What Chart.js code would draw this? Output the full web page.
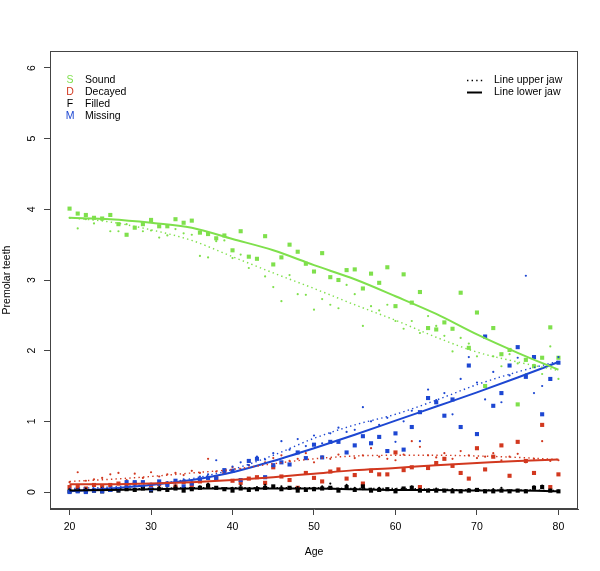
<!DOCTYPE html>
<html>
<head>
<meta charset="utf-8">
<script src="https://cdn.jsdelivr.net/npm/chart.js@4.4.1/dist/chart.umd.min.js"></script>
<style>
  html, body { margin: 0; padding: 0; background: #fff; }
</style>
</head>
<body>
<canvas id="teethChart" width="600" height="571"></canvas>
<script>
// ages of the patients (x axis)
const ages = [20,21,22,23,24,25,26,27,28,29,30,31,32,33,34,35,36,37,38,39,40,
  41,42,43,44,45,46,47,48,49,50,51,52,53,54,55,56,57,58,59,60,
  61,62,63,64,65,66,67,68,69,70,71,72,73,74,75,76,77,78,79,80];

// mean number of premolars per age, lower jaw (squares) and upper jaw (dots)
const soundLower = [4.01,3.94,3.92,3.88,3.87,3.92,3.79,3.64,3.74,3.79,3.85,3.76,3.76,3.86,3.81,3.84,3.67,3.65,3.59,3.63,3.42,
  3.69,3.33,3.30,3.62,3.22,3.32,3.50,3.40,3.23,3.12,3.38,3.04,3.00,3.14,3.15,2.88,3.09,2.96,3.18,2.63,
  3.08,2.68,2.83,2.32,2.30,2.40,2.31,2.82,2.04,2.54,1.50,2.32,1.95,2.01,1.24,1.87,1.78,1.90,2.33,1.90];
const soundUpper = [3.88,3.73,3.86,3.80,3.85,3.69,3.69,3.79,3.75,3.69,3.70,3.60,3.63,3.72,3.66,3.64,3.34,3.32,3.55,3.56,3.31,
  3.36,3.17,3.30,3.05,2.90,2.70,3.07,2.80,2.79,2.58,2.73,2.65,2.60,2.93,2.80,2.35,2.63,2.57,2.65,2.42,
  2.31,2.42,2.25,2.49,2.35,2.21,1.99,2.18,2.10,1.92,2.21,1.92,1.78,1.95,1.82,1.67,1.80,1.67,2.06,1.60];
const decayedLower = [0.07,0.07,0.05,0.10,0.07,0.10,0.12,0.08,0.12,0.07,0.10,0.11,0.12,0.08,0.14,0.10,0.15,0.08,0.20,0.28,0.16,
  0.13,0.19,0.21,0.13,0.35,0.22,0.17,0.06,0.27,0.20,0.15,0.29,0.32,0.19,0.24,0.12,0.30,0.25,0.25,0.56,
  0.31,0.35,0.07,0.34,0.41,0.47,0.37,0.27,0.19,0.62,0.32,0.50,0.66,0.23,0.71,0.44,0.27,0.95,0.07,0.25];
const decayedUpper = [0.14,0.28,0.16,0.18,0.20,0.25,0.27,0.17,0.26,0.20,0.28,0.22,0.25,0.27,0.24,0.30,0.27,0.47,0.29,0.31,0.35,
  0.32,0.38,0.47,0.42,0.48,0.52,0.44,0.47,0.55,0.42,0.50,0.47,0.53,0.56,0.48,0.52,0.62,0.50,0.47,0.45,
  0.53,0.72,0.64,0.52,0.49,0.55,0.47,0.58,0.52,0.48,0.50,0.55,0.45,0.50,0.54,0.42,0.47,0.72,0.44,0.45];
const filledLower = [0.01,0.02,0.01,0.02,0.01,0.03,0.02,0.04,0.03,0.05,0.02,0.04,0.03,0.05,0.02,0.04,0.06,0.09,0.06,0.04,0.02,
  0.05,0.03,0.04,0.06,0.08,0.04,0.06,0.02,0.03,0.04,0.05,0.06,0.02,0.07,0.03,0.08,0.02,0.03,0.04,0.01,
  0.05,0.06,0.02,0.02,0.02,0.02,0.01,0.01,0.02,0.03,0.01,0.01,0.02,0.01,0.02,0.01,0.06,0.07,0.02,0.01];
const filledUpper = [0.04,0.03,0.05,0.02,0.06,0.04,0.03,0.06,0.05,0.08,0.04,0.07,0.05,0.09,0.06,0.05,0.08,0.12,0.07,0.05,0.06,
  0.09,0.05,0.07,0.10,0.06,0.08,0.05,0.07,0.04,0.06,0.08,0.12,0.05,0.10,0.06,0.04,0.05,0.06,0.03,0.04,
  0.05,0.08,0.04,0.03,0.05,0.03,0.04,0.02,0.04,0.03,0.02,0.04,0.06,0.02,0.03,0.02,0.08,0.09,0.03,0.02];
const missingLower = [0.00,0.01,0.00,0.02,0.01,0.03,0.04,0.14,0.14,0.14,0.04,0.15,0.10,0.16,0.08,0.12,0.18,0.20,0.19,0.31,0.30,
  0.17,0.44,0.47,0.21,0.38,0.42,0.39,0.56,0.48,0.67,0.49,0.71,0.71,0.56,0.66,0.79,0.69,0.78,0.58,0.83,
  0.60,0.92,1.13,1.33,1.27,1.08,1.31,0.92,1.79,0.82,2.20,1.22,1.40,1.79,2.05,1.63,1.91,1.10,1.60,1.83];
const missingUpper = [0.02,0.03,0.02,0.05,0.04,0.06,0.05,0.08,0.10,0.08,0.12,0.10,0.14,0.13,0.18,0.15,0.22,0.25,0.45,0.28,0.36,
  0.42,0.38,0.50,0.46,0.55,0.72,0.60,0.75,0.65,0.80,0.69,0.83,0.91,0.85,0.88,1.20,1.00,0.95,1.05,0.71,
  1.00,1.15,0.72,1.45,1.30,1.40,1.10,1.60,1.91,1.55,1.31,1.70,1.27,1.65,1.90,3.06,1.40,1.50,1.80,1.91];

// fitted curves, read at every 5 years
const fitAges = [20,25,30,35,40,45,50,55,60,65,70,75,80];
const soundLowerFit   = [3.88,3.86,3.81,3.74,3.58,3.42,3.21,3.01,2.77,2.52,2.23,1.97,1.73];
const soundUpperFit   = [3.88,3.82,3.71,3.56,3.33,3.10,2.88,2.65,2.43,2.19,1.98,1.84,1.72];
const decayedLowerFit = [0.11,0.11,0.12,0.14,0.17,0.21,0.26,0.31,0.34,0.38,0.41,0.44,0.46];
const decayedUpperFit = [0.15,0.18,0.22,0.27,0.32,0.40,0.47,0.51,0.52,0.52,0.51,0.49,0.46];
const filledLowerFit  = [0.02,0.03,0.04,0.05,0.05,0.05,0.05,0.04,0.03,0.03,0.02,0.02,0.01];
const filledUpperFit  = [0.03,0.04,0.05,0.06,0.06,0.06,0.06,0.05,0.05,0.04,0.03,0.03,0.02];
const missingLowerFit = [0.01,0.05,0.10,0.17,0.28,0.44,0.62,0.81,1.01,1.21,1.41,1.62,1.84];
const missingUpperFit = [0.05,0.07,0.11,0.19,0.32,0.52,0.76,0.95,1.10,1.30,1.52,1.70,1.85];

const xTicks = [20, 30, 40, 50, 60, 70, 80];
const yTicks = [0, 1, 2, 3, 4, 5, 6];

const colGreen = '#7fe04c';
const colRed = '#d2381f';
const colBlack = '#000000';
const colBlue = '#1d47d2';

const FONT = '"Liberation Sans", Arial, Helvetica, sans-serif';
Chart.defaults.font.family = FONT;
Chart.defaults.font.size = 10.5;
Chart.defaults.color = '#000';

const DOTS = [1.4, 3.2]; // R lty 3

function toXY(xs, ys) {
    return xs.map((x, i) => ({ x: x, y: ys[i] }));
}

function pointSet(label, values, color, lower, order) {
    return {
        label: label,
        data: toXY(ages, values),
        showLine: false,
        pointStyle: lower ? 'rect' : 'circle',
        pointRadius: lower ? 2.9 : 1.1,
        backgroundColor: color,
        borderColor: color,
        borderWidth: 0,
        order: order
    };
}

function fitLine(label, values, color, upper) {
    return {
        label: label,
        data: toXY(fitAges, values),
        showLine: true,
        pointRadius: 0,
        borderColor: color,
        borderWidth: upper ? 1.4 : 2,
        borderDash: upper ? DOTS : [],
        cubicInterpolationMode: 'monotone',
        fill: false,
        order: 0
    };
}

// legend items drawn inside the plot, R style
const legendItems = [
    { letter: 'S', label: 'Sound', color: colGreen },
    { letter: 'D', label: 'Decayed', color: colRed },
    { letter: 'F', label: 'Filled', color: colBlack },
    { letter: 'M', label: 'Missing', color: colBlue }
];

const boxAndLegend = {
    id: 'boxAndLegend',
    afterDraw(chart) {
        const ctx = chart.ctx;
        const a = chart.chartArea;
        ctx.save();
        ctx.strokeStyle = '#444';
        ctx.lineWidth = 1;
        ctx.strokeRect(Math.round(a.left) + 0.5, Math.round(a.top) + 0.5,
            Math.round(a.right - a.left) - 1, Math.round(a.bottom - a.top) - 1);

        ctx.font = '10.5px ' + FONT;
        ctx.textBaseline = 'middle';
        legendItems.forEach((item, i) => {
            const y = 80.5 + i * 11.8;
            ctx.fillStyle = item.color;
            ctx.textAlign = 'center';
            ctx.fillText(item.letter, 70, y);
            ctx.fillStyle = '#000';
            ctx.textAlign = 'left';
            ctx.fillText(item.label, 85, y);
        });

        ctx.strokeStyle = '#000';
        ctx.lineWidth = 1.4;
        ctx.setLineDash(DOTS);
        ctx.beginPath();
        ctx.moveTo(467, 80.5);
        ctx.lineTo(483, 80.5);
        ctx.stroke();
        ctx.setLineDash([]);
        ctx.lineWidth = 2;
        ctx.beginPath();
        ctx.moveTo(467, 92.5);
        ctx.lineTo(482, 92.5);
        ctx.stroke();
        ctx.fillStyle = '#000';
        ctx.textAlign = 'left';
        ctx.fillText('Line upper jaw', 494, 80.5);
        ctx.fillText('Line lower jaw', 494, 92.5);
        ctx.restore();
    }
};

const ctx = document.getElementById('teethChart').getContext('2d');

const teethChart = new Chart(ctx, {
    type: 'scatter',
    data: {
        datasets: [
            fitLine('Sound lower fit', soundLowerFit, colGreen, false),
            fitLine('Sound upper fit', soundUpperFit, colGreen, true),
            fitLine('Decayed lower fit', decayedLowerFit, colRed, false),
            fitLine('Decayed upper fit', decayedUpperFit, colRed, true),
            fitLine('Filled lower fit', filledLowerFit, colBlack, false),
            fitLine('Filled upper fit', filledUpperFit, colBlack, true),
            fitLine('Missing lower fit', missingLowerFit, colBlue, false),
            fitLine('Missing upper fit', missingUpperFit, colBlue, true),
            pointSet('Sound lower', soundLower, colGreen, true, 4),
            pointSet('Sound upper', soundUpper, colGreen, false, 4),
            pointSet('Decayed lower', decayedLower, colRed, true, 3),
            pointSet('Decayed upper', decayedUpper, colRed, false, 3),
            pointSet('Filled lower', filledLower, colBlack, true, 2),
            pointSet('Filled upper', filledUpper, colBlack, false, 2),
            pointSet('Missing lower', missingLower, colBlue, true, 1),
            pointSet('Missing upper', missingUpper, colBlue, false, 1)
        ]
    },
    options: {
        responsive: false,
        animation: false,
        layout: {
            padding: { left: 0, top: 51, right: 22, bottom: 13 }
        },
        plugins: {
            legend: { display: false },
            tooltip: { enabled: false }
        },
        scales: {
            x: {
                type: 'linear',
                min: 17.6,
                max: 82.4,
                afterBuildTicks: (axis) => { axis.ticks = xTicks.map(v => ({ value: v })); },
                afterFit: (axis) => { axis.height = 49; },
                ticks: { padding: 6, maxRotation: 0, color: '#000' },
                grid: { display: true, drawOnChartArea: false, drawTicks: true, tickLength: 6, color: '#444' },
                border: { display: true, color: '#444' },
                title: { display: true, text: 'Age', padding: { top: 0, bottom: 0 }, color: '#000' }
            },
            y: {
                type: 'linear',
                min: -0.24,
                max: 6.24,
                afterBuildTicks: (axis) => { axis.ticks = yTicks.map(v => ({ value: v })); },
                afterFit: (axis) => { axis.width = 50; },
                ticks: { padding: 9, minRotation: 90, maxRotation: 90, crossAlign: 'center', color: '#000' },
                grid: { display: true, drawOnChartArea: false, drawTicks: true, tickLength: 6, color: '#444' },
                border: { display: true, color: '#444' },
                title: { display: true, text: 'Premolar teeth', padding: { top: 1, bottom: 0 }, color: '#000' }
            }
        }
    },
    plugins: [boxAndLegend]
});
</script>
</body>
</html>
